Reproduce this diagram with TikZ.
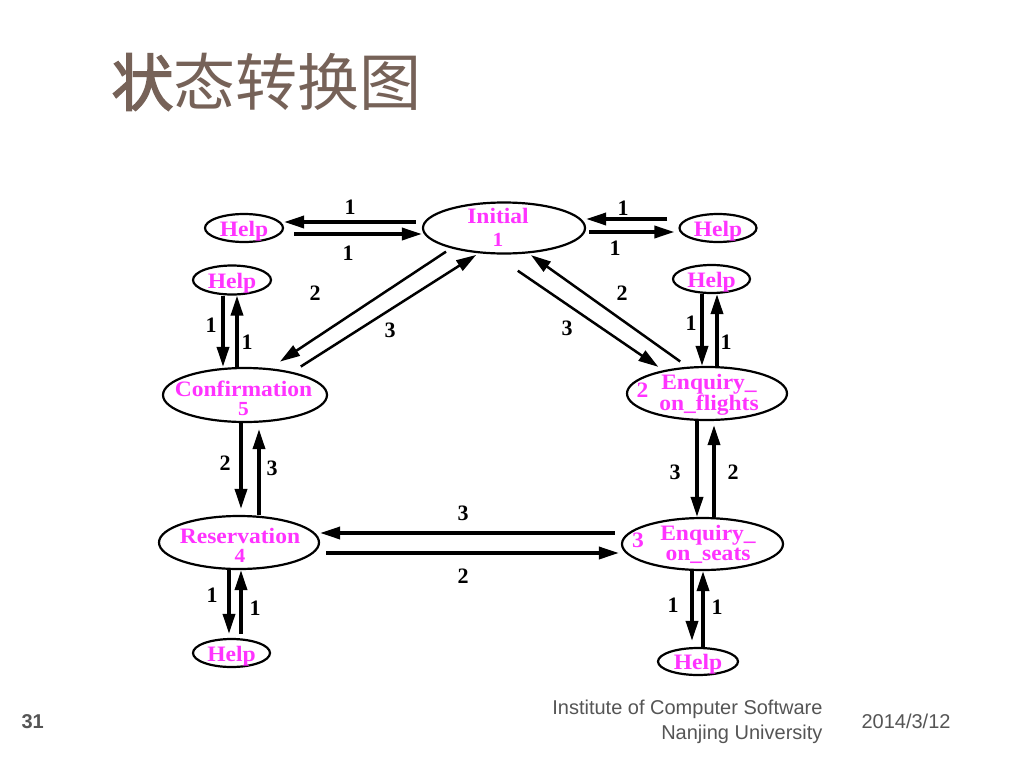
\documentclass[tikz,border=0pt]{standalone}
\usepackage{fontspec}
\setmainfont{Liberation Serif}
\setsansfont{Liberation Sans}
\newfontfamily\stfont[FakeStretch=1.07]{Liberation Serif}
\newfontfamily\cjkfont{Noto Sans CJK SC}
\newfontfamily\cjkheavy[FakeBold=2.5]{Noto Sans CJK SC}
\newcommand\stnum[1]{{\fontsize{20}{20}\selectfont #1}}
\usetikzlibrary{shapes.geometric, arrows.meta}
\definecolor{stmag}{RGB}{255,51,255}
\definecolor{titlebrown}{RGB}{118,98,88}
\definecolor{footgray}{RGB}{85,85,85}
\tikzset{>={Triangle[length=20pt,width=12pt]}}
\tikzset{
  st/.style={ellipse, draw, line width=2.2pt, inner sep=0pt},
  sttext/.style={text=stmag, align=center, font=\stfont\fontsize{22}{#1}\selectfont\bfseries},
  sttext/.default=20,
  hlp/.style={st, minimum width=78pt, minimum height=28pt,
    label={[sttext, yshift=-3pt]center:Help}},
  arr/.style={->, line width=3.5pt},
  diag/.style={->, line width=2.5pt},
  lbl/.style={font=\fontsize{22}{22}\selectfont\bfseries},
  foot/.style={font=\sffamily\fontsize{20}{25}\selectfont, text=footgray}
}

\begin{document}
\begin{tikzpicture}[x=1pt, y=-1pt]
    \useasboundingbox[fill=white] (0,0) rectangle (1024,768);
    \node[anchor=west, text=titlebrown, font=\cjkfont\fontsize{62}{62}\selectfont] (title) at (108,82) {{\cjkheavy 状}态转换图};
    % states
    \node[st, minimum width=162pt, minimum height=51pt,
      label={[sttext=23, xshift=-6pt, yshift=0.5pt]center:{Initial\\\stnum{1}}}] (ini) at (504,228) {};
    \node[st, minimum width=164pt, minimum height=54pt,
      label={[sttext=19, xshift=-1.5pt, yshift=-3.5pt]center:{Confirmation\\\stnum{5}}}] (conf) at (245,395) {};
    \node[st, minimum width=160pt, minimum height=53pt,
      label={[sttext=19, xshift=1pt, yshift=-2.5pt]center:{Reservation\\\stnum{4}}}] (res) at (239,542.5) {};
    \node[st, minimum width=160pt, minimum height=53pt,
      label={[sttext, xshift=2pt, yshift=-1.5pt]center:{Enquiry\_\\on\_flights}},
      label={[sttext, xshift=-64.5pt, yshift=3.5pt]center:2}] (fli) at (707,393.5) {};
    \node[st, minimum width=161pt, minimum height=52pt,
      label={[sttext, xshift=5.5pt]center:{Enquiry\_\\on\_seats}},
      label={[sttext, xshift=-64.5pt, yshift=4pt]center:3}] (seat) at (702.5,544) {};
    \node[hlp] (hlpa) at (244,228) {};
    \node[hlp, minimum width=77pt] (hlpb) at (718,228) {};
    \node[hlp, minimum height=29pt] (hlpc) at (232,280) {};
    \node[hlp, minimum width=77pt] (hlpd) at (711.5,279) {};
    \node[hlp, minimum width=77pt] (hlpe) at (231.5,653) {};
    \node[hlp, minimum width=80pt, minimum height=27pt] (hlpf) at (698,661.5) {};
    % transitions
    \draw[arr, shorten <=6pt] ([yshift=6pt]ini.west) -- ([yshift=6pt]hlpa.east);
    \draw[arr, shorten <=10pt] ([yshift=-6pt]hlpa.east) -- ([yshift=-6pt]ini.west);
    \draw[arr, shorten <=11pt] ([yshift=9pt]hlpb.west) -- ([yshift=9pt]ini.east);
    \draw[arr, shorten <=3pt, shorten >=4pt] ([yshift=-4pt]ini.east) -- ([yshift=-4pt]hlpb.west);
    \draw[diag, shorten <=6pt, shorten >=12pt] (ini.201) -- (conf.47);
    \draw[diag, shorten <=10pt, shorten >=3pt] (conf.26) -- (ini.225);
    \draw[diag, shorten <=29pt, shorten >=6pt] (ini.249) -- (fli.152);
    \draw[diag, shorten <=9pt, shorten >=3pt] (fli.126) -- (ini.314);
    \draw[arr] ([xshift=-9pt]hlpc.south) -- ([xshift=-22pt]conf.north);
    \draw[arr] ([xshift=-8pt]conf.north) -- ([xshift=5pt]hlpc.south);
    \draw[arr] ([xshift=-9.5pt]hlpd.south) -- ([xshift=-5pt]fli.north);
    \draw[arr] ([xshift=10pt]fli.north) -- ([xshift=5.5pt]hlpd.south);
    \draw[arr, shorten >=6pt] ([xshift=-4pt]conf.south) -- ([xshift=2pt]res.north);
    \draw[arr, shorten >=6pt] ([xshift=20pt]res.north) -- ([xshift=14pt]conf.south);
    \draw[arr] ([xshift=-10pt]fli.south) -- ([xshift=-5.5pt]seat.north);
    \draw[arr, shorten >=4pt] ([xshift=11.5pt]seat.north) -- ([xshift=7pt]fli.south);
    \draw[arr, shorten <=6pt] ([yshift=11pt]seat.west) -- ([yshift=9.5pt]res.east);
    \draw[arr, shorten <=6pt, shorten >=2pt] ([yshift=-10.5pt]res.east) -- ([yshift=-9pt]seat.west);
    \draw[arr, shorten >=4pt] ([xshift=-10pt]res.south) -- ([xshift=-2.5pt]hlpe.north);
    \draw[arr, shorten <=4pt] ([xshift=9.5pt]hlpe.north) -- ([xshift=2pt]res.south);
    \draw[arr, shorten >=6pt] ([xshift=-10.5pt]seat.south) -- ([xshift=-6pt]hlpf.north);
    \draw[arr] ([xshift=5pt]hlpf.north) -- ([xshift=0.5pt]seat.south);
    % transition labels
    \foreach \p/\t [count=\i] in {{350,207}/1, {348,253}/1, {623,208}/1, {615,248}/1,
        {315,293}/2, {390,330}/3, {567,328}/3, {622,293}/2,
        {211,325}/1, {247,342}/1, {691,323}/1, {726,342}/1,
        {225,463}/2, {272,468}/3, {675,472}/3, {733,472}/2,
        {463,513}/3, {463,576}/2,
        {212,595}/1, {255,608}/1, {673,605}/1, {717,607}/1}
      \node[lbl] (lab\i) at (\p) {\t};
    % footer
    \node[foot, font=\sffamily\bfseries\fontsize{20}{20}\selectfont, anchor=west] (pg) at (18,722) {31};
    \node[foot, anchor=east, align=right] (inst) at (826,721.5) {Institute of Computer Software\\Nanjing University};
    \node[foot, anchor=west] (date) at (858,721) {2014/3/12};
\end{tikzpicture}
\end{document}
